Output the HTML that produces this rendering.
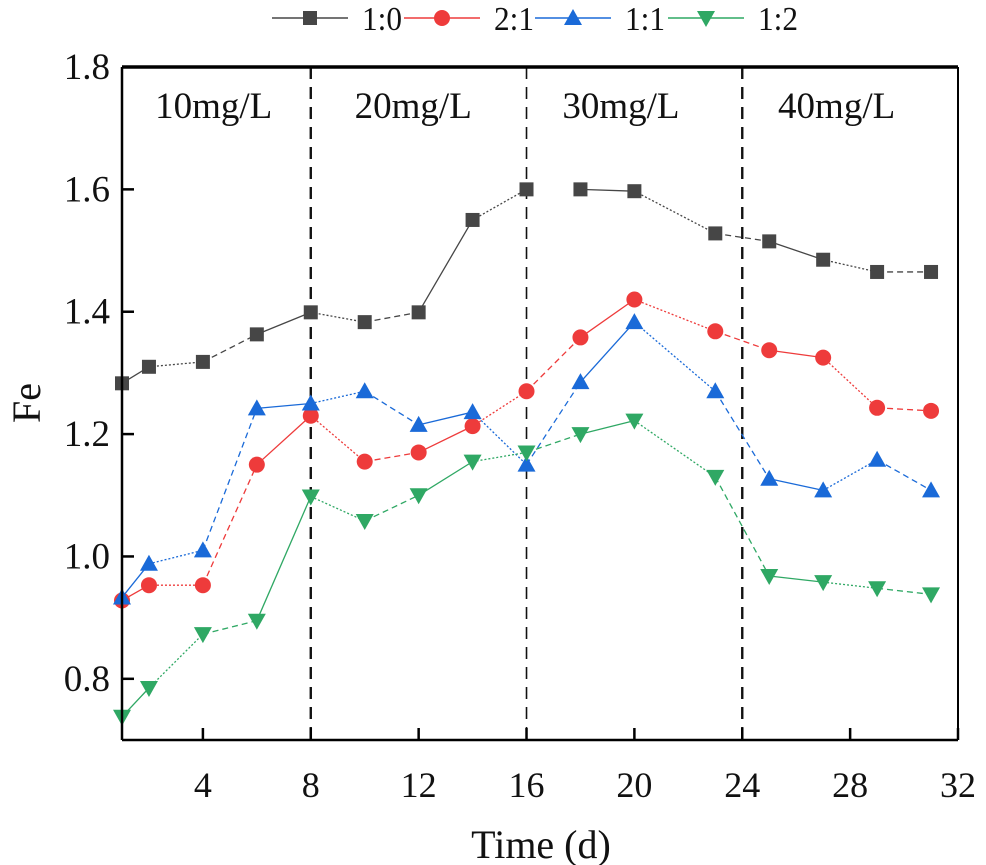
<!DOCTYPE html>
<html><head><meta charset="utf-8"><style>
body{margin:0;background:#fff;}
svg{display:block;font-family:"Liberation Serif",serif;}
</style></head><body>
<svg id="chart" width="986" height="865" viewBox="0 0 986 865"></svg>
<script>
const days=[1,2,4,6,8,10,12,14,16,18,20,23,25,27,29,31];
const s10=[1.283,1.31,1.318,1.363,1.399,1.383,1.399,1.55,1.6,1.6,1.597,1.528,1.515,1.485,1.465,1.465];
const s21=[0.928,0.953,0.953,1.15,1.23,1.155,1.17,1.213,1.27,1.358,1.42,1.368,1.337,1.325,1.243,1.238];
const s11=[0.933,0.988,1.01,1.242,1.25,1.27,1.215,1.236,1.15,1.285,1.383,1.27,1.127,1.108,1.158,1.108];
const s12=[0.738,0.785,0.873,0.895,1.098,1.058,1.1,1.155,1.17,1.2,1.222,1.13,0.968,0.958,0.948,0.938];
const xTicks=[4,8,12,16,20,24,28,32];
const yTicks=[0.8,1.0,1.2,1.4,1.6,1.8];
const dividers=[8,16,24];
const regionLabels=["10mg/L","20mg/L","30mg/L","40mg/L"];
const regionCenters=[4.4,11.8,19.5,27.5];
const seriesNames=["1:0","2:1","1:1","1:2"];

const L=122,R=958,T=67,B=740;
const X=v=>L+(v-1)/(32-1)*(R-L);
const Y=v=>B-(v-0.7)/(1.8-0.7)*(B-T);
const NS="http://www.w3.org/2000/svg";
const svg=document.getElementById('chart');
function el(tag,attrs,parent){const e=document.createElementNS(NS,tag);for(const k in attrs)e.setAttribute(k,attrs[k]);(parent||svg).appendChild(e);return e;}

dividers.forEach(d=>{
  const ln=el('line',{x1:X(d),x2:X(d),y1:T,y2:B,stroke:'#111','stroke-width':d===16?1.6:2.4,'stroke-dasharray':'12,8'});
  
  
});
regionLabels.forEach((t,i)=>{
  const tx=el('text',{x:X(regionCenters[i]),y:118,'text-anchor':'middle','font-size':37,fill:'#111'});
  tx.textContent=t;
  
  
});

function marker(type,cx,cy,color,g){
  let m;
  if(type==='sq') m=el('rect',{x:cx-7,y:cy-7,width:14,height:14,fill:color},g);
  else if(type==='ci') m=el('circle',{cx,cy,r:8,fill:color},g);
  else if(type==='up') m=el('polygon',{points:`${cx},${cy-9} ${cx-9},${cy+7} ${cx+9},${cy+7}`,fill:color},g);
  else m=el('polygon',{points:`${cx},${cy+9} ${cx-9},${cy-7} ${cx+9},${cy-7}`,fill:color},g);
  return m;
}
const series=[[s10,'#464646','sq'],[s21,'#ee3b3b','ci'],[s11,'#1a6ad8','up'],[s12,'#2fa864','dn']];
series.forEach(([vals,col,mk],si)=>{
  const g=el('g',{});
  
  
  for(let i=0;i<days.length-1;i++){
    if(si===0&&days[i]===16) continue;
    el('line',{x1:X(days[i]),y1:Y(vals[i]),x2:X(days[i+1]),y2:Y(vals[i+1]),stroke:col,'stroke-width':1.3,'stroke-dasharray':i%3===0?'':(i%3===1?'2,2':'6,4')},g);
  }
  days.forEach((d,i)=>{
    const m=marker(mk,X(d),Y(vals[i]),col,g);
    
    
  });
});

const fr=el('g',{});


el('line',{x1:L,x2:R,y1:T,y2:T,stroke:'#000','stroke-width':3.5},fr);
el('line',{x1:R,x2:R,y1:T,y2:B,stroke:'#000','stroke-width':2},fr);
el('line',{x1:L,x2:R,y1:B,y2:B,stroke:'#000','stroke-width':2.5},fr);
el('line',{x1:L,x2:L,y1:T,y2:B,stroke:'#000','stroke-width':2.5},fr);

xTicks.forEach(t=>{
  el('line',{x1:X(t),x2:X(t),y1:B,y2:B-12,stroke:'#000','stroke-width':2.5});
  const tx=el('text',{x:X(t),y:B+57,'text-anchor':'middle','font-size':36,fill:'#111'});
  tx.textContent=t;
  
  
});
yTicks.forEach(t=>{
  el('line',{x1:L,x2:L+12,y1:Y(t),y2:Y(t),stroke:'#000','stroke-width':2.5});
  const tx=el('text',{x:L-12,y:Y(t)+12,'text-anchor':'end','font-size':37,fill:'#111'});
  tx.textContent=t.toFixed(1);
  
  
});
const xt=el('text',{x:541,y:858,'text-anchor':'middle','font-size':40,fill:'#111'});
xt.textContent='Time (d)';


const yt=el('text',{x:0,y:0,'text-anchor':'middle','font-size':40,fill:'#111',transform:'translate(40,403) rotate(-90)'});
yt.textContent='Fe';



const legMarkX=[310,442,573,706];
series.forEach(([v,col,mk],i)=>{
  const g=el('g',{});
  
  
  const lx=legMarkX[i];
  el('line',{x1:lx-38,x2:lx+38,y1:18,y2:18,stroke:col,'stroke-width':1.5},g);
  marker(mk,lx,18,col,g);
  const tx=el('text',{x:lx+52,y:30,'font-size':34,fill:'#111',textLength:40,lengthAdjust:'spacingAndGlyphs'},g);
  tx.textContent=seriesNames[i];
});
</script>
</body></html>
